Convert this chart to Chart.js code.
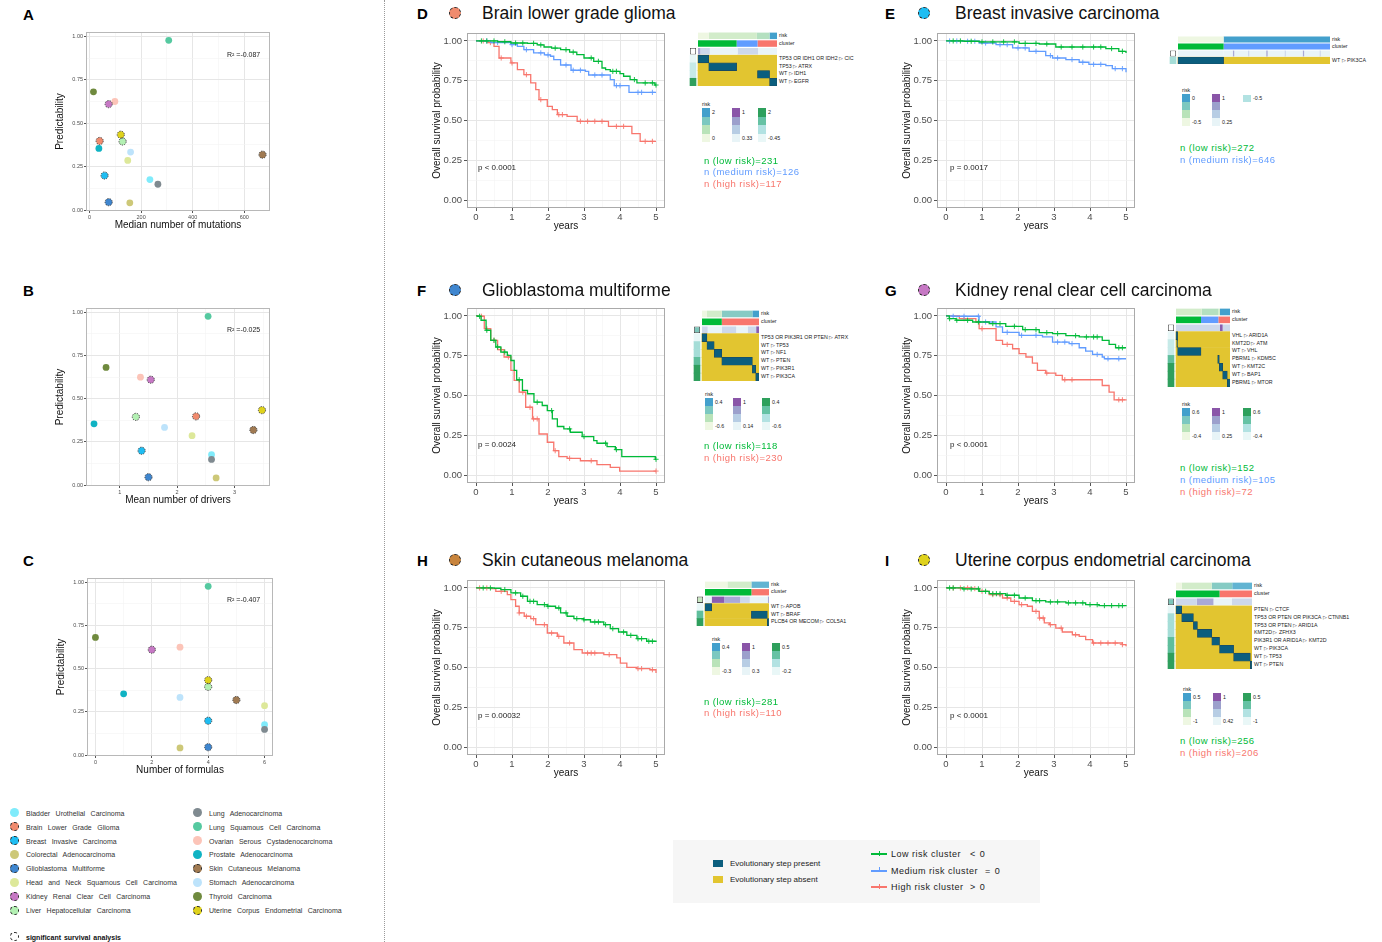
<!DOCTYPE html>
<html>
<head>
<meta charset="utf-8">
<title>Predictability and survival</title>
<script src="https://cdn.jsdelivr.net/npm/chart.js@4.4.1/dist/chart.umd.min.js"></script>
<style>
  body { margin: 0; background: #fff; font-family: "Liberation Sans", Arial, sans-serif; }
  #page { position: relative; width: 1382px; height: 942px; overflow: hidden; background: #fff; }
  canvas { position: absolute; }
  .t { position: absolute; white-space: nowrap; line-height: 1; transform: translateY(-50%); color: #111; }
  .tag { font-weight: bold; font-size: 15px; color: #000; }
  .ttl { font-size: 17.5px; color: #111; }
  .pv { font-size: 8px; color: #222; }
  .nn { font-size: 9.5px; letter-spacing: 0.45px; }
  .lab { font-size: 5.3px; color: #222; }
  .r2 { font-size: 7px; color: #222; }
  .lg { font-size: 7px; color: #333; word-spacing: 3.5px; }
  .box { position: absolute; }
  .dot { position: absolute; border-radius: 50%; box-sizing: border-box; }
</style>
</head>
<body>
<div id="page"></div>
<script>
// ---------- panels A-C: predictability per cancer type ----------
const cancers = ['Bladder Urothelial Carcinoma', 'Brain Lower Grade Glioma', 'Breast Invasive Carcinoma',
  'Colorectal Adenocarcinoma', 'Glioblastoma Multiforme', 'Head and Neck Squamous Cell Carcinoma',
  'Kidney Renal Clear Cell Carcinoma', 'Liver Hepatocellular Carcinoma', 'Lung Adenocarcinoma',
  'Lung Squamous Cell Carcinoma', 'Ovarian Serous Cystadenocarcinoma', 'Prostate Adenocarcinoma',
  'Skin Cutaneous Melanoma', 'Stomach Adenocarcinoma', 'Thyroid Carcinoma', 'Uterine Corpus Endometrial Carcinoma'];
const cancerColors = ['#80ebfb', '#f08b6e', '#1fbdf2', '#cdc878', '#3f86cf', '#dde89a', '#c678c4', '#b3f0b3',
  '#7f8a90', '#55c9a0', '#fcc4b8', '#10b3c3', '#a07a52', '#bde3fb', '#6f8a3e', '#dfd21c'];
const significant = [false, true, true, false, true, false, true, true, false, false, false, false, true, false, false, true];
const predictability = [0.176, 0.398, 0.199, 0.042, 0.046, 0.286, 0.610, 0.395, 0.149, 0.977, 0.625, 0.355, 0.319, 0.334, 0.681, 0.434];
const medianMutations = [234, 39, 58, 156, 74, 148, 74, 128, 265, 307, 98, 36, 671, 159, 15, 121];
const meanDrivers = [2.60, 2.33, 1.38, 2.68, 1.50, 2.26, 1.54, 1.28, 2.60, 2.54, 1.36, 0.55, 3.33, 1.78, 0.76, 3.48];
const nFormulas = [6, null, 4, 3, 4, 6, 2, 4, 6, 4, 3, 1, 5, 3, 0, 4];
const r2Labels = ['R² =-0.087', 'R² =-0.025', 'R² =-0.407'];
const predTicks = [0, 0.25, 0.5, 0.75, 1];

// ---------- panels D-I: Kaplan-Meier curves (years, survival) + censor times ----------
const dLowT = [0, 0.6, 0.97, 1.43, 1.7, 1.89, 2.1, 2.35, 2.6, 2.8, 3.0, 3.27, 3.5, 3.6, 3.73, 4.0, 4.1, 4.28, 4.47, 4.97, 5.0];
const dLowS = [1, 0.995, 0.987, 0.985, 0.975, 0.962, 0.955, 0.945, 0.93, 0.914, 0.893, 0.872, 0.83, 0.82, 0.809, 0.795, 0.778, 0.757, 0.736, 0.723, 0.723];
const dLowC = [0.15, 0.3, 0.5, 0.8, 1.1, 1.3, 1.6, 1.8, 2.2, 2.5, 2.7, 3.2, 3.4, 3.8, 3.9, 4.4, 4.7, 4.9, 5.0];
const dMedT = [0, 0.41, 0.97, 1.15, 1.33, 1.6, 1.9, 2.07, 2.16, 2.35, 2.64, 3.04, 3.13, 3.73, 3.84, 4.25, 5.0];
const dMedS = [1, 0.99, 0.977, 0.966, 0.945, 0.925, 0.912, 0.904, 0.883, 0.849, 0.816, 0.809, 0.786, 0.757, 0.719, 0.677, 0.677];
const dMedC = [0.3, 0.6, 1.0, 1.4, 1.8, 2.0, 2.5, 2.7, 2.9, 3.3, 3.5, 3.9, 4.0, 4.5, 4.6, 4.9];
const dHighT = [0, 0.32, 0.5, 0.64, 0.97, 1.15, 1.33, 1.52, 1.66, 1.75, 1.98, 2.12, 2.26, 2.53, 2.81, 3.68, 4.33, 4.56, 5.0];
const dHighS = [1, 0.99, 0.966, 0.893, 0.862, 0.82, 0.788, 0.736, 0.694, 0.631, 0.589, 0.568, 0.537, 0.526, 0.495, 0.463, 0.417, 0.369, 0.369];
const dHighC = [0.2, 0.4, 0.7, 1.0, 1.4, 1.8, 2.3, 2.4, 2.9, 3.1, 3.3, 3.5, 3.9, 4.1, 4.7, 4.9];

const eLowT = [0, 0.5, 0.92, 2.03, 2.59, 3.05, 4.44, 4.8, 5.0];
const eLowS = [1, 0.998, 0.994, 0.985, 0.981, 0.962, 0.952, 0.935, 0.925];
const eLowC = [0.2, 0.4, 0.7, 1.0, 1.3, 1.6, 1.9, 2.2, 2.5, 2.8, 3.2, 3.5, 3.8, 4.1, 4.3, 4.6, 4.9];
const eMedT = [0, 0.46, 0.92, 1.39, 1.85, 2.31, 2.77, 2.96, 3.33, 3.7, 3.97, 4.44, 4.62, 5.0];
const eMedS = [1, 0.998, 0.987, 0.977, 0.956, 0.935, 0.908, 0.893, 0.883, 0.866, 0.853, 0.845, 0.826, 0.803];
const eMedC = [0.1, 0.3, 0.6, 0.8, 1.1, 1.5, 1.7, 2.0, 2.2, 2.5, 2.9, 3.1, 3.5, 3.8, 4.1, 4.3, 4.7, 4.9];

const fLowT = [0, 0.05, 0.14, 0.28, 0.41, 0.55, 0.69, 0.87, 0.97, 1.06, 1.13, 1.29, 1.43, 1.61, 1.84, 1.98, 2.12, 2.26, 2.44, 2.62, 2.95, 3.27, 3.36, 3.64, 3.87, 4.05, 4.98, 5.0];
const fLowS = [1, 0.998, 0.973, 0.91, 0.847, 0.805, 0.773, 0.752, 0.72, 0.658, 0.599, 0.532, 0.511, 0.458, 0.437, 0.405, 0.353, 0.305, 0.29, 0.269, 0.242, 0.216, 0.2, 0.179, 0.16, 0.116, 0.099, 0.099];
const fLowC = [0.1, 0.3, 0.5, 0.6, 0.8, 1.2, 1.7, 2.1, 2.6, 3.0, 3.6, 3.9, 5.0];
const fHighT = [0, 0.05, 0.23, 0.41, 0.6, 0.78, 0.97, 1.06, 1.2, 1.38, 1.57, 1.75, 1.98, 2.16, 2.3, 2.53, 2.9, 3.36, 3.73, 3.99, 5.0];
const fHighS = [1, 0.998, 0.92, 0.847, 0.788, 0.742, 0.658, 0.595, 0.521, 0.426, 0.353, 0.258, 0.206, 0.153, 0.116, 0.105, 0.09, 0.065, 0.048, 0.025, 0.025];
const fHighC = [0.15, 0.3, 0.5, 0.7, 0.9, 1.3, 1.5, 1.6, 1.7, 2.2, 2.6, 3.2, 5.0];

const gLowT = [0, 0.09, 0.28, 0.74, 1.2, 1.66, 2.13, 2.59, 2.96, 3.33, 3.7, 4.34, 4.53, 4.71, 5.0];
const gLowS = [1, 0.983, 0.973, 0.962, 0.952, 0.935, 0.914, 0.895, 0.889, 0.876, 0.868, 0.847, 0.821, 0.8, 0.8];
const gLowC = [0.1, 0.3, 0.6, 0.9, 1.3, 1.5, 1.9, 2.2, 2.5, 2.8, 3.1, 3.6, 3.9, 4.1, 4.2, 4.8, 4.9];
const gMedT = [0, 0.2, 0.92, 1.39, 1.57, 2.03, 2.68, 2.96, 3.42, 3.7, 3.88, 4.07, 4.34, 4.4, 5.0];
const gMedS = [1, 0.998, 0.962, 0.931, 0.897, 0.878, 0.868, 0.836, 0.826, 0.8, 0.779, 0.758, 0.742, 0.731, 0.731];
const gMedC = [0.2, 0.5, 0.9, 1.1, 1.7, 2.1, 2.5, 3.1, 3.3, 3.5, 4.2, 4.5, 4.8];
const gHighT = [0, 0.37, 0.83, 0.92, 1.39, 1.57, 1.85, 2.03, 2.22, 2.4, 2.54, 2.77, 3.05, 3.23, 4.34, 4.53, 4.67, 5.0];
const gHighS = [1, 0.983, 0.962, 0.92, 0.847, 0.821, 0.794, 0.763, 0.742, 0.704, 0.658, 0.641, 0.626, 0.599, 0.563, 0.521, 0.473, 0.468];
const gHighC = [0.5, 1.0, 1.7, 2.8, 3.3, 3.5, 4.8, 4.9];

const hLowT = [0, 0.51, 0.69, 0.97, 1.24, 1.43, 1.7, 1.98, 2.21, 2.35, 2.53, 2.72, 2.99, 3.18, 3.55, 3.73, 3.96, 4.19, 4.47, 4.74, 5.0];
const hLowS = [1, 0.998, 0.99, 0.969, 0.948, 0.916, 0.895, 0.885, 0.874, 0.843, 0.822, 0.807, 0.8, 0.786, 0.769, 0.744, 0.723, 0.702, 0.681, 0.665, 0.66];
const hLowC = [0.2, 0.4, 0.8, 1.1, 1.3, 1.5, 1.6, 1.9, 2.0, 2.3, 2.5, 2.8, 3.0, 3.3, 3.4, 3.6, 3.8, 4.1, 4.3, 4.5, 4.6, 4.8, 4.9];
const hHighT = [0, 0.41, 0.55, 0.87, 0.97, 1.1, 1.2, 1.34, 1.52, 1.66, 1.98, 2.26, 2.44, 2.72, 2.95, 3.55, 3.91, 4.01, 4.19, 4.47, 4.83, 5.0];
const hHighS = [1, 0.996, 0.979, 0.958, 0.927, 0.885, 0.843, 0.822, 0.807, 0.769, 0.717, 0.696, 0.654, 0.612, 0.591, 0.581, 0.56, 0.528, 0.501, 0.493, 0.486, 0.465];
const hHighC = [0.1, 0.3, 0.7, 1.2, 1.4, 1.6, 1.9, 2.1, 2.3, 2.6, 3.1, 3.2, 3.3, 3.7, 4.5, 4.6, 4.9];

const iLowT = [0, 0.46, 0.92, 1.2, 1.66, 2.03, 2.4, 2.77, 3.33, 3.88, 4.25, 5.0];
const iLowS = [1, 0.994, 0.979, 0.964, 0.954, 0.937, 0.92, 0.912, 0.906, 0.895, 0.889, 0.885];
const iLowC = [0.1, 0.2, 0.5, 0.7, 0.9, 1.1, 1.3, 1.4, 1.5, 1.7, 1.9, 2.2, 2.5, 2.6, 2.9, 3.1, 3.4, 3.6, 3.8, 4.0, 4.2, 4.4, 4.6, 4.8, 4.9];
const iHighT = [0, 0.74, 0.92, 1.2, 1.57, 1.8, 2.03, 2.26, 2.4, 2.59, 2.73, 2.87, 3.05, 3.23, 3.51, 3.7, 3.88, 4.07, 4.9, 5.0];
const iHighS = [1, 0.996, 0.979, 0.958, 0.937, 0.916, 0.895, 0.885, 0.853, 0.811, 0.78, 0.769, 0.748, 0.723, 0.706, 0.696, 0.675, 0.654, 0.644, 0.633];
const iHighC = [0.2, 0.4, 0.6, 0.8, 1.0, 1.3, 1.5, 1.7, 1.9, 2.1, 2.5, 2.6, 2.7, 2.9, 3.2, 3.6, 4.1, 4.3, 4.5, 4.7, 4.9];

const kmYears = [0, 1, 2, 3, 4, 5];
const kmSurvTicks = [0, 0.25, 0.5, 0.75, 1];

// ---------- heatmaps: column cuts are fractions of patients ----------
const dSteps = ['TP53 OR IDH1 OR IDH2 ▷ CIC', 'TP53 ▷ ATRX', 'WT ▷ IDH1', 'WT ▷ EGFR'];
const dRiskCuts = [0, 0.136, 0.745, 0.906, 1], dRiskLvl = [0, 1, 2, 5];
const dClCuts = [0, 0.489, 0.753, 1], dClIdx = [0, 1, 2];
const dMutCuts = [0, 0.03, 0.15, 0.5, 0.76, 1], dMutLvl = [2, 1, 0, 1, 0];
const dPresent = [[0, 0.136], [0.136, 0.489], [0.753, 0.906], [0.906, 1]];
const dSide = [0, 1, 1, 4], dBox = 0;
const dLegend = ['2', '0', '1', '0.33', '2', '-0.45'];

const eSteps = ['WT ▷ PIK3CA'];
const eRiskCuts = [0, 0.3, 1], eRiskLvl = [0, 5];
const eClCuts = [0, 0.3, 1], eClIdx = [0, 1];
const eMutCuts = [0, 0.3, 0.36, 0.37, 0.46, 0.47, 0.58, 0.59, 0.7, 0.71, 0.82, 0.83, 0.93, 0.94, 1];
const eMutLvl = [0, 0, 2, 0, 1, 0, 2, 0, 1, 0, 2, 0, 1, 0];
const ePresent = [[0, 0.3]];
const eSide = [2], eBox = 0;
const eLegend = ['0', '-0.5', '1', '0.25', '-0.5'];

const fSteps = ['TP53 OR PIK3R1 OR PTEN ▷ ATRX', 'WT ▷ TP53', 'WT ▷ NF1', 'WT ▷ PTEN', 'WT ▷ PIK3R1', 'WT ▷ PIK3CA'];
const fRiskCuts = [0, 0.087, 0.347, 0.884, 1], fRiskLvl = [0, 1, 3, 5];
const fClCuts = [0, 0.347, 1], fClIdx = [0, 2];
const fMutCuts = [0, 0.1, 0.35, 0.6, 0.8, 0.95, 1], fMutLvl = [1, 0, 1, 0, 1, 3];
const fPresent = [[0, 0.087], [0.087, 0.214], [0.214, 0.347], [0.347, 0.884], [0.884, 0.942], [0.942, 1]];
const fSide = [0, 2, 2, 3, 4, 4], fBox = 2;
const fLegend = ['0.4', '-0.6', '1', '0.14', '0.4', '-0.6'];

const gSteps = ['VHL ▷ ARID1A', 'KMT2D ▷ ATM', 'WT ▷ VHL', 'PBRM1 ▷ KDM5C', 'WT ▷ KMT2C', 'WT ▷ BAP1', 'PBRM1 ▷ MTOR'];
const gRiskCuts = [0, 0.475, 0.784, 0.815, 1], gRiskLvl = [1, 2, 1, 5];
const gClCuts = [0, 0.463, 0.784, 1], gClIdx = [0, 1, 2];
const gMutCuts = [0, 0.815, 0.864, 1], gMutLvl = [1, 3, 1];
const gPresent = [[0, 0.03], [0.015, 0.03], [0.03, 0.463], [0.772, 0.802], [0.802, 0.864], [0.864, 0.95], [0.95, 1]];
const gSide = [0, 1, 1, 3, 4, 4, 4], gBox = 0;
const gLegend = ['0.6', '-0.4', '1', '0.25', '0.6', '-0.4'];

const hSteps = ['WT ▷ APOB', 'WT ▷ BRAF', 'PLCB4 OR MECOM ▷ COL5A1'];
const hRiskCuts = [0, 0.35, 0.725, 1], hRiskLvl = [0, 1, 4];
const hClCuts = [0, 0.725, 1], hClIdx = [0, 2];
const hMutCuts = [0, 0.104, 0.3, 0.55, 0.7, 0.98, 1], hMutLvl = [0, 3, 2, 1, 0, 2];
const hPresent = [[0, 0.104], [0.725, 0.974], [0.974, 1]];
const hSide = [0, 3, 4], hBox = 1;
const hLegend = ['0.4', '-0.3', '1', '0.3', '0.5', '-0.2'];

const iSteps = ['PTEN ▷ CTCF', 'TP53 OR PTEN OR PIK3CA  ▷ CTNNB1', 'TP53 OR PTEN ▷ ARID1A', 'KMT2D ▷ ZFHX3',
  'PIK3R1 OR ARID1A ▷ KMT2D', 'WT ▷ PIK3CA', 'WT ▷ TP53', 'WT ▷ PTEN'];
const iRiskCuts = [0, 0.075, 0.47, 0.74, 1], iRiskLvl = [0, 1, 3, 4];
const iClCuts = [0, 0.573, 1], iClIdx = [0, 2];
const iMutCuts = [0, 0.273, 0.493, 0.736, 1], iMutLvl = [1, 2, 0, 1];
const iPresent = [[0, 0.075], [0.075, 0.229], [0.229, 0.282], [0.282, 0.471], [0.471, 0.573], [0.573, 0.758], [0.758, 0.978], [0.978, 1]];
const iSide = [0, 2, 2, 2, 3, 3, 4, 4], iBox = 2;
const iLegend = ['0.5', '-1', '1', '0.42', '0.5', '-1'];

// ---------- styling ----------
const GREEN = '#00BA38', BLUE = '#619CFF', RED = '#F8766D';
const riskPal = ['#eef7e2', '#d2ecca', '#b4e0c0', '#86cbc4', '#62b4d2', '#43a0cc'];
const mutPal = ['#e9f4f8', '#cdd8eb', '#a9a9d6', '#8a5eaf'];
const sidePal = ['#e8f7f7', '#c6eae8', '#a5ddd7', '#5fbe9c', '#2f9f5d'];
const boxPal = ['#ffffff', '#c9e8c2', '#7cc6ba'];
const clusterPal = [GREEN, BLUE, RED];
const PRESENT = '#0b5e7e', ABSENT = '#e2c530';

Chart.defaults.font.family = '"Liberation Sans", Arial, sans-serif';
Chart.defaults.animation = false;
Chart.defaults.responsive = false;
Chart.defaults.plugins.legend.display = false;
Chart.defaults.plugins.tooltip.enabled = false;

// grey panel border like theme_bw
Chart.register({
  id: 'frame',
  afterDraw(c, a, o) {
    if (!o.color) return;
    const { left, top, width, height } = c.chartArea;
    const g = c.ctx;
    g.save();
    g.strokeStyle = o.color;
    g.lineWidth = 1;
    g.strokeRect(left + 0.5, top + 0.5, width - 1, height - 1);
    g.restore();
  }
});

// dashed outline for cancers with significant survival analysis
Chart.register({
  id: 'ring',
  afterDatasetsDraw(c, a, o) {
    if (!o.flags) return;
    const g = c.ctx;
    g.save();
    g.setLineDash([1.4, 1.1]);
    g.strokeStyle = '#222';
    g.lineWidth = 0.8;
    c.getDatasetMeta(0).data.forEach((p, i) => {
      if (!o.flags[i] || p.skip || isNaN(p.x)) return;
      g.beginPath();
      g.arc(p.x, p.y, 3.6, 0, Math.PI * 2);
      g.stroke();
    });
    g.restore();
  }
});

const page = document.getElementById('page');

function put(x, y, html, cls, style) {
  const d = document.createElement('div');
  d.className = 't ' + (cls || '');
  d.style.left = x + 'px';
  d.style.top = y + 'px';
  if (style) d.style.cssText += style;
  d.innerHTML = html;
  page.appendChild(d);
  return d;
}

function rect(x, y, w, h, style) {
  const d = document.createElement('div');
  d.className = 'box';
  d.style.cssText = `left:${x}px;top:${y}px;width:${w}px;height:${h}px;` + style;
  page.appendChild(d);
  return d;
}

function dot(cx, cy, size, color, dashed) {
  const d = document.createElement('div');
  d.className = 'dot';
  d.style.cssText = `left:${cx - size / 2}px;top:${cy - size / 2}px;width:${size}px;height:${size}px;background:${color};` +
    (dashed ? 'border:1px dashed #222;' : '');
  page.appendChild(d);
}

function canvasAt(x, y, w, h) {
  const c = document.createElement('canvas');
  c.width = w;
  c.height = h;
  c.style.left = x + 'px';
  c.style.top = y + 'px';
  page.appendChild(c);
  return c;
}

// ggplot-like axis: major ticks labelled, minor ones only as light grid
function ggAxis(o) {
  return {
    type: 'linear', min: o.min, max: o.max,
    afterBuildTicks: s => {
      s.ticks = o.major.map(v => ({ value: v }))
        .concat(o.minor.map(v => ({ value: v, minor: true })))
        .sort((a, b) => a.value - b.value);
    },
    afterFit: s => { if (s.isHorizontal()) s.height = o.fit; else s.width = o.fit; },
    grid: {
      color: c => (c.tick && c.tick.minor ? '#f3f3f3' : '#e6e6e6'),
      lineWidth: c => (c.tick && c.tick.minor ? 0.6 : 1),
      tickColor: c => (c.tick && c.tick.minor ? 'rgba(0,0,0,0)' : '#555'),
      tickLength: o.tickLen
    },
    border: { display: false },
    ticks: {
      autoSkip: false, maxRotation: 0, padding: o.pad, color: '#4d4d4d', font: { size: o.font },
      callback: (v, i, t) => (t[i].minor ? '' : o.fmt(v))
    },
    title: { display: true, text: o.title, color: '#111', font: { size: o.tsize }, padding: o.tpad }
  };
}

const halves = a => a.slice(0, -1).map((v, i) => (v + a[i + 1]) / 2);

// ---------- scatter panels ----------
function scatterPanel(x, y, w, h, pad, xs, xmin, xmax, xMajor, xMinor, xTitle) {
  const cv = canvasAt(x, y, w, h);
  new Chart(cv, {
    type: 'scatter',
    data: {
      datasets: [{
        data: cancers.map((_, i) => ({ x: xs[i], y: predictability[i] })),
        pointBackgroundColor: cancerColors,
        pointBorderWidth: 0,
        pointRadius: 3.4
      }]
    },
    options: {
      layout: { padding: { top: pad.top, right: pad.right } },
      plugins: { frame: { color: '#b8b8b8' }, ring: { flags: significant } },
      scales: {
        x: ggAxis({ min: xmin, max: xmax, major: xMajor, minor: xMinor, fmt: v => String(v), fit: 24, pad: 1,
          font: 5.5, title: xTitle, tsize: 10, tpad: { top: 0, bottom: 4 }, tickLen: 2 }),
        y: ggAxis({ min: -0.005, max: 1.025, major: predTicks, minor: halves(predTicks), fmt: v => v.toFixed(2), fit: 41, pad: 1,
          font: 5.5, title: 'Predictability', tsize: 10, tpad: { top: 9, bottom: 0 }, tickLen: 2 })
      }
    }
  });
}

scatterPanel(45, 25, 235, 210, { top: 7, right: 10 }, medianMutations, -14, 700, [0, 200, 400, 600], [100, 300, 500], 'Median number of mutations');
scatterPanel(45, 300, 235, 210, { top: 8, right: 10 }, meanDrivers, 0.41, 3.62, [1, 2, 3], [0.5, 1.5, 2.5, 3.5], 'Mean number of drivers');
scatterPanel(46, 571, 237, 209, { top: 7, right: 10 }, nFormulas, -0.3, 6.3, [0, 2, 4, 6], [1, 3, 5], 'Number of formulas');

put(227, 54, r2Labels[0], 'r2');
put(227, 329, r2Labels[1], 'r2');
put(227, 599, r2Labels[2], 'r2');

// cancer legend
cancers.forEach((name, i) => {
  const col = i < 8 ? 0 : 1, r = i % 8;
  const cy = 812.7 + r * 13.9;
  dot(col ? 197 : 14, cy, 9, cancerColors[i], significant[i]);
  put(col ? 209 : 26, cy, name, 'lg');
});
dot(14, 936.7, 9, '#fff', true);
put(26, 936.7, 'significant survival analysis', 'lg', 'font-weight:bold;color:#111;word-spacing:1px;');

// ---------- Kaplan-Meier panels ----------
function survAt(T, S, t) {
  let v = S[0];
  for (let i = 0; i < T.length; i++) if (T[i] <= t) v = S[i];
  return v;
}

function kmPanel(x, y, curves) {
  const cv = canvasAt(x, y, 250, 210);
  const ds = [];
  curves.forEach(([T, S, C, col]) => {
    ds.push({ type: 'line', data: T.map((t, i) => ({ x: t, y: S[i] })), borderColor: col, borderWidth: 1.3,
      stepped: true, pointRadius: 0, fill: false });
    ds.push({ type: 'scatter', data: C.map(t => ({ x: t, y: survAt(T, S, t) })), pointStyle: 'cross',
      pointRadius: 2.6, borderColor: col, backgroundColor: col, borderWidth: 0.9 });
  });
  new Chart(cv, {
    type: 'scatter',
    data: { datasets: ds },
    options: {
      layout: { padding: { top: 8, right: 5 } },
      plugins: { frame: { color: '#aaaaaa' } },
      scales: {
        x: ggAxis({ min: -0.25, max: 5.25, major: kmYears, minor: halves(kmYears), fmt: v => String(v), fit: 27, pad: 1,
          font: 9.5, title: 'years', tsize: 10, tpad: { top: 0, bottom: 3 }, tickLen: 3 }),
        y: ggAxis({ min: -0.05, max: 1.05, major: kmSurvTicks, minor: halves(kmSurvTicks), fmt: v => v.toFixed(2), fit: 47, pad: 2,
          font: 9.5, title: 'Overall survival probability', tsize: 10, tpad: { top: 11, bottom: 0 }, tickLen: 3 })
      }
    }
  });
}

kmPanel(420, 25, [[dLowT, dLowS, dLowC, GREEN], [dMedT, dMedS, dMedC, BLUE], [dHighT, dHighS, dHighC, RED]]);
kmPanel(890, 25, [[eLowT, eLowS, eLowC, GREEN], [eMedT, eMedS, eMedC, BLUE]]);
kmPanel(420, 300, [[fLowT, fLowS, fLowC, GREEN], [fHighT, fHighS, fHighC, RED]]);
kmPanel(890, 300, [[gLowT, gLowS, gLowC, GREEN], [gMedT, gMedS, gMedC, BLUE], [gHighT, gHighS, gHighC, RED]]);
kmPanel(420, 572, [[hLowT, hLowS, hLowC, GREEN], [hHighT, hHighS, hHighC, RED]]);
kmPanel(890, 572, [[iLowT, iLowS, iLowC, GREEN], [iHighT, iHighS, iHighC, RED]]);

// ---------- heatmaps as floating bar charts ----------
function heatmap(x0, w, top, bottom, steps, riskCuts, riskLvl, clCuts, clIdx, mutCuts, mutLvl, present, side, box) {
  const rows = ['risk', 'cluster', ''].concat(steps);
  const lo = -9 / w, s0 = -8 / w, s1 = -2 / w;
  const one = (i, v) => rows.map((_, j) => (j === i ? v : null));
  const ds = [];
  const seg = (i, cuts, k, color) => ds.push({ data: one(i, [cuts[k], cuts[k + 1]]), backgroundColor: color, barPercentage: 0.84, order: 1 });
  riskLvl.forEach((l, k) => seg(0, riskCuts, k, riskPal[l]));
  clIdx.forEach((c, k) => seg(1, clCuts, k, clusterPal[c]));
  mutLvl.forEach((l, k) => seg(2, mutCuts, k, mutPal[l]));
  ds.push({ data: one(2, [s0, s1]), backgroundColor: boxPal[box], borderColor: '#444', borderWidth: 0.8, barPercentage: 0.84, order: 1 });
  // drawing order: lower "order" ends up on top
  ds.push({ data: rows.map((_, j) => (j > 2 ? [0, 1] : null)), backgroundColor: ABSENT, order: 9 });
  ds.push({ data: rows.map((_, j) => (j > 2 ? present[j - 3] : null)), backgroundColor: PRESENT, borderColor: '#1f4558', borderWidth: 0.6, order: 2 });
  ds.push({ data: rows.map((_, j) => (j > 2 ? [s0, s1] : null)), backgroundColor: rows.map((_, j) => (j > 2 ? sidePal[side[j - 3]] : null)), order: 1 });

  const cv = canvasAt(x0 - 9, top, w + 9, bottom - top);
  new Chart(cv, {
    type: 'bar',
    data: {
      labels: rows,
      datasets: ds.map(d => Object.assign({ grouped: false, categoryPercentage: 1, barPercentage: 1, borderSkipped: false, borderWidth: 0 }, d))
    },
    options: {
      indexAxis: 'y',
      layout: { padding: 0 },
      scales: { x: { type: 'linear', min: lo, max: 1, display: false }, y: { display: false } }
    }
  });
  const rh = (bottom - top) / rows.length;
  rows.forEach((r, j) => { if (r) put(x0 + w + 2, top + (j + 0.5) * rh, r, 'lab'); });
}

heatmap(698, 79, 32, 86, dSteps, dRiskCuts, dRiskLvl, dClCuts, dClIdx, dMutCuts, dMutLvl, dPresent, dSide, dBox);
heatmap(1178, 152, 36, 64, eSteps, eRiskCuts, eRiskLvl, eClCuts, eClIdx, eMutCuts, eMutLvl, ePresent, eSide, eBox);
heatmap(702, 57, 310, 381, fSteps, fRiskCuts, fRiskLvl, fClCuts, fClIdx, fMutCuts, fMutLvl, fPresent, fSide, fBox);
heatmap(1176, 54, 308, 387, gSteps, gRiskCuts, gRiskLvl, gClCuts, gClIdx, gMutCuts, gMutLvl, gPresent, gSide, gBox);
heatmap(705, 64, 581, 626, hSteps, hRiskCuts, hRiskLvl, hClCuts, hClIdx, hMutCuts, hMutLvl, hPresent, hSide, hBox);
heatmap(1176, 76, 582, 669, iSteps, iRiskCuts, iRiskLvl, iClCuts, iClIdx, iMutCuts, iMutLvl, iPresent, iSide, iBox);

// heatmap colour keys
const keyRisk = ['#43a0cc', '#7cc8c0', '#b9e3b9', '#eef7e2'];
const keyMut = ['#8a55a8', '#9ca0cc', '#b7cde4', '#e8f4f7'];
const keySide = ['#2ea05c', '#66c2a4', '#b2e2e2', '#e9f7f7'];
function heatKey(x1, x2, x3, top, h, labels) {
  put(x1, top - 3, 'risk', 'lab');
  const bar = (x, pal, lt, lb) => {
    pal.forEach((c, k) => rect(x, top + k * h / 4, 8, h / 4 + 0.3, 'background:' + c));
    put(x + 10, top + h / 8 + 1, lt, 'lab');
    put(x + 10, top + h * 7 / 8 + 1, lb, 'lab');
  };
  bar(x1, keyRisk, labels[0], labels[1]);
  bar(x2, keyMut, labels[2], labels[3]);
  if (labels.length === 5) {
    rect(x3, top + 1, 8, 7, 'background:#b2e2e2');
    put(x3 + 10, top + 4.5, labels[4], 'lab');
  } else {
    bar(x3, keySide, labels[4], labels[5]);
  }
}
heatKey(702, 732, 758, 108, 34, dLegend);
heatKey(1182, 1212, 1243, 94, 32, eLegend);
heatKey(705, 733, 762, 398, 32, fLegend);
heatKey(1182, 1212, 1243, 408, 32, gLegend);
heatKey(712, 742, 772, 643, 32, hLegend);
heatKey(1183, 1213, 1243, 693, 32, iLegend);

// ---------- titles, p-values, group sizes ----------
const panelTags = [['A', 23, 14], ['B', 23, 290], ['C', 23, 560], ['D', 417, 13], ['E', 885, 13],
  ['F', 417, 290], ['G', 885, 290], ['H', 417, 560], ['I', 885, 560]];
panelTags.forEach(([t, x, y]) => put(x, y, t, 'tag'));

const kmTitles = ['Brain lower grade glioma', 'Breast invasive carcinoma', 'Glioblastoma multiforme',
  'Kidney renal clear cell carcinoma', 'Skin cutaneous melanoma', 'Uterine corpus endometrial carcinoma'];
const kmTitleColors = ['#f08b6e', '#1fbdf2', '#3f86cf', '#c678c4', '#c8843c', '#dfd21c'];
const pValues = ['p < 0.0001', 'p = 0.0017', 'p = 0.0024', 'p < 0.0001', 'p = 0.00032', 'p < 0.0001'];
const groupSizes = [
  [['low', 231, GREEN], ['medium', 126, BLUE], ['high', 117, RED]],
  [['low', 272, GREEN], ['medium', 646, BLUE]],
  [['low', 118, GREEN], ['high', 230, RED]],
  [['low', 152, GREEN], ['medium', 105, BLUE], ['high', 72, RED]],
  [['low', 281, GREEN], ['high', 110, RED]],
  [['low', 256, GREEN], ['high', 206, RED]]
];
const slots = [[0, 0, 160.7], [1, 0, 148.3], [0, 1, 446], [1, 1, 468.3], [0, 2, 701.7], [1, 2, 741]];
const rowY = [13.5, 290.5, 560.5], pY = [168, 445, 716];
slots.forEach(([c, r, ny], k) => {
  const bx = c ? 470 : 0;
  dot(455 + bx - (c ? 1 : 0), rowY[r] - 0.5, 12, kmTitleColors[k], true);
  put(482 + bx + (c ? 3 : 0), rowY[r], kmTitles[k], 'ttl');
  put(478 + bx + (c ? 2 : 0), pY[r], pValues[k], 'pv');
  groupSizes[k].forEach(([g, n, col], j) => put(704 + (c ? 476 : 0), ny + j * 11.6, `n (${g} risk)=${n}`, 'nn', 'color:' + col));
});

// ---------- bottom legend ----------
rect(673, 840, 367, 63, 'background:#f6f6f6');
rect(713, 860, 10, 7, 'background:' + PRESENT);
rect(713, 876, 10, 7, 'background:' + ABSENT);
put(730, 863.5, 'Evolutionary step present', '', 'font-size:8px;color:#222;');
put(730, 879.5, 'Evolutionary step absent', '', 'font-size:8px;color:#222;');
const riskKey = [['Low risk cluster', '&lt; 0', GREEN, 854], ['Medium risk cluster', '= 0', BLUE, 870.5], ['High risk cluster', '&gt; 0', RED, 887]];
riskKey.forEach(([t, s, col, y], k) => {
  rect(871, y - 1, 16, 2, 'background:' + col);
  rect(878.5, y - 3.5, 1, 5, 'background:' + col);
  put(891, y, t, '', 'font-size:9px;letter-spacing:0.5px;color:#222;');
  put(k === 1 ? 985 : 970, y, s, '', 'font-size:9px;letter-spacing:1px;color:#222;');
});

// dotted divider between the two halves
rect(384, 0, 0, 942, 'border-left:1px dotted #9a9a9a');
</script>
</body>
</html>
